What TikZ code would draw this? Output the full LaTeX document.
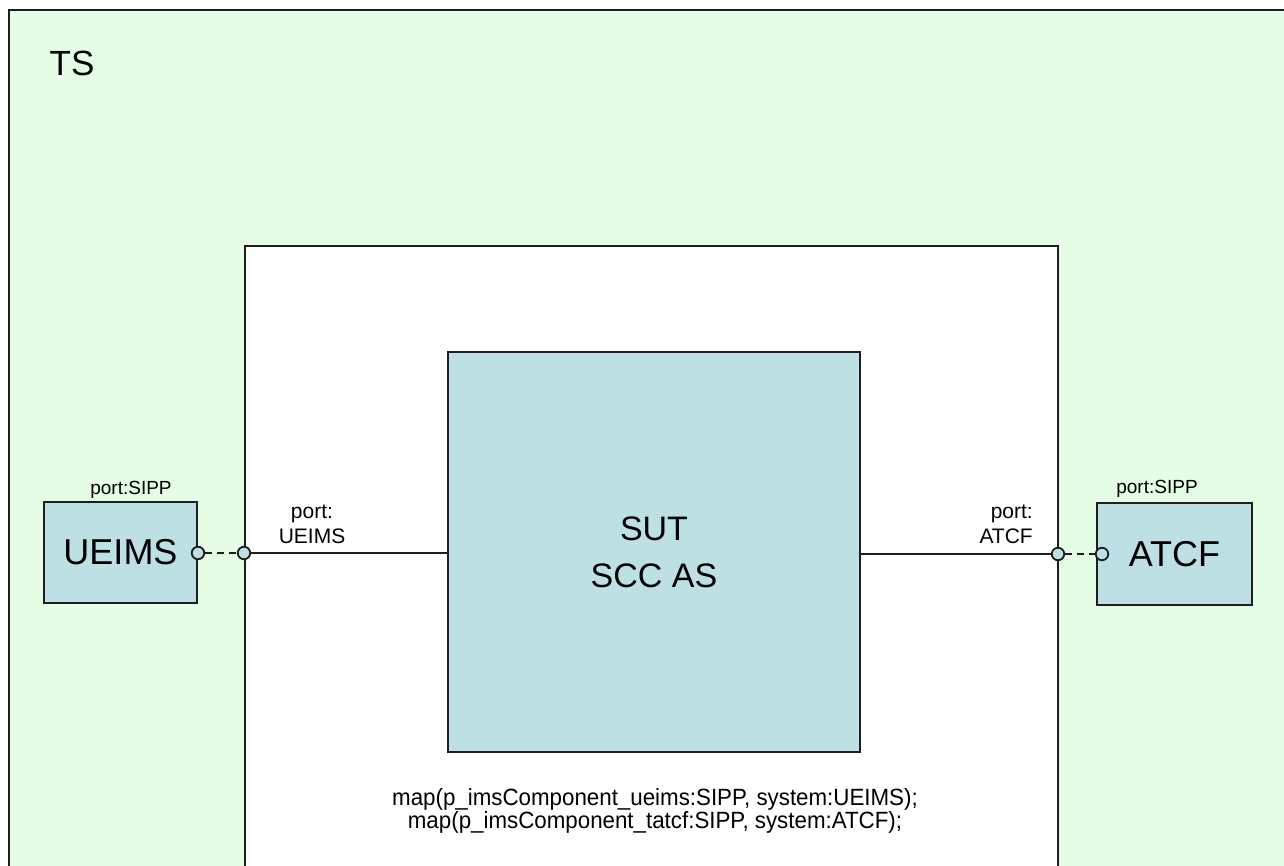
\documentclass[tikz,border=0pt]{standalone}
\usepackage{fontspec}
\setmainfont{Liberation Sans}
\definecolor{tsgreen}{RGB}{228,253,228}
\definecolor{boxblue}{RGB}{188,224,227}
\definecolor{edge}{RGB}{30,30,30}
\tikzset{
  comp/.style={draw=edge, line width=2.2pt, fill=boxblue, rectangle, inner sep=0pt},
  portc/.style={draw=edge, line width=1.8pt, fill=boxblue, circle, minimum size=12.5pt, inner sep=0pt},
  wire/.style={draw=edge, line width=2pt},
  dwire/.style={draw=edge, line width=2pt, dash pattern=on 7pt off 5pt},
  lbl/.style={font=\fontsize{19}{22}\selectfont, inner sep=0pt},
  plbl/.style={font=\fontsize{21}{25}\selectfont, inner sep=0pt},
  big/.style={font=\fontsize{36}{40}\selectfont}
}
\begin{document}
\begin{tikzpicture}[x=1pt,y=-1pt]
\useasboundingbox (0,0) rectangle (1284,865);
\begin{scope}
\clip (0,0) rectangle (1284,865);
\draw[edge, line width=2.2pt, fill=tsgreen] (9,10) rectangle (1300,900);
\draw[edge, line width=2.2pt, fill=white] (245,246) rectangle (1058,900);
\end{scope}
\node[font=\fontsize{35}{40}\selectfont, inner sep=0pt] (ts) at (72,63) {TS};
\node[comp, minimum width=412pt, minimum height=400pt, align=center, font=\fontsize{34}{47}\selectfont] (sut) at (654,552) {SUT\\SCC AS};
\node[comp, minimum width=153pt, minimum height=101pt, big] (ueims) at (120.5,552.5) {UEIMS};
\node[comp, minimum width=155pt, minimum height=102pt, big] (atcf) at (1174.5,554) {ATCF};
\node[portc] (pu1) at (198,553) {};
\node[portc] (pu2) at (244,553) {};
\node[portc] (pa1) at (1058,554) {};
\node[portc] (pa2) at (1102,554) {};
\draw[wire] (pu2.east) -- (pu2.east -| sut.west);
\draw[wire] (sut.east |- pa1.west) -- (pa1.west);
\draw[dwire] (pu1.east) -- (pu2.west);
\draw[dwire] (pa1.east) -- (pa2.west);
\node[lbl] (lu) at (131,490) {port:SIPP};
\node[lbl] (la) at (1157,489) {port:SIPP};
\node[plbl, align=center] (lpu) at (312,524) {port:\\UEIMS};
\node[plbl, align=right, anchor=east] (lpa) at (1033,524) {port:\\ATCF};
\node[font=\fontsize{23.5}{23}\selectfont, align=center, inner sep=0pt] (map) at (655,811) {\scalebox{0.95}[1]{map(p\_imsComponent\_ueims:SIPP, system:UEIMS);}\\\scalebox{0.95}[1]{map(p\_imsComponent\_tatcf:SIPP, system:ATCF);}};
\end{tikzpicture}
\end{document}
